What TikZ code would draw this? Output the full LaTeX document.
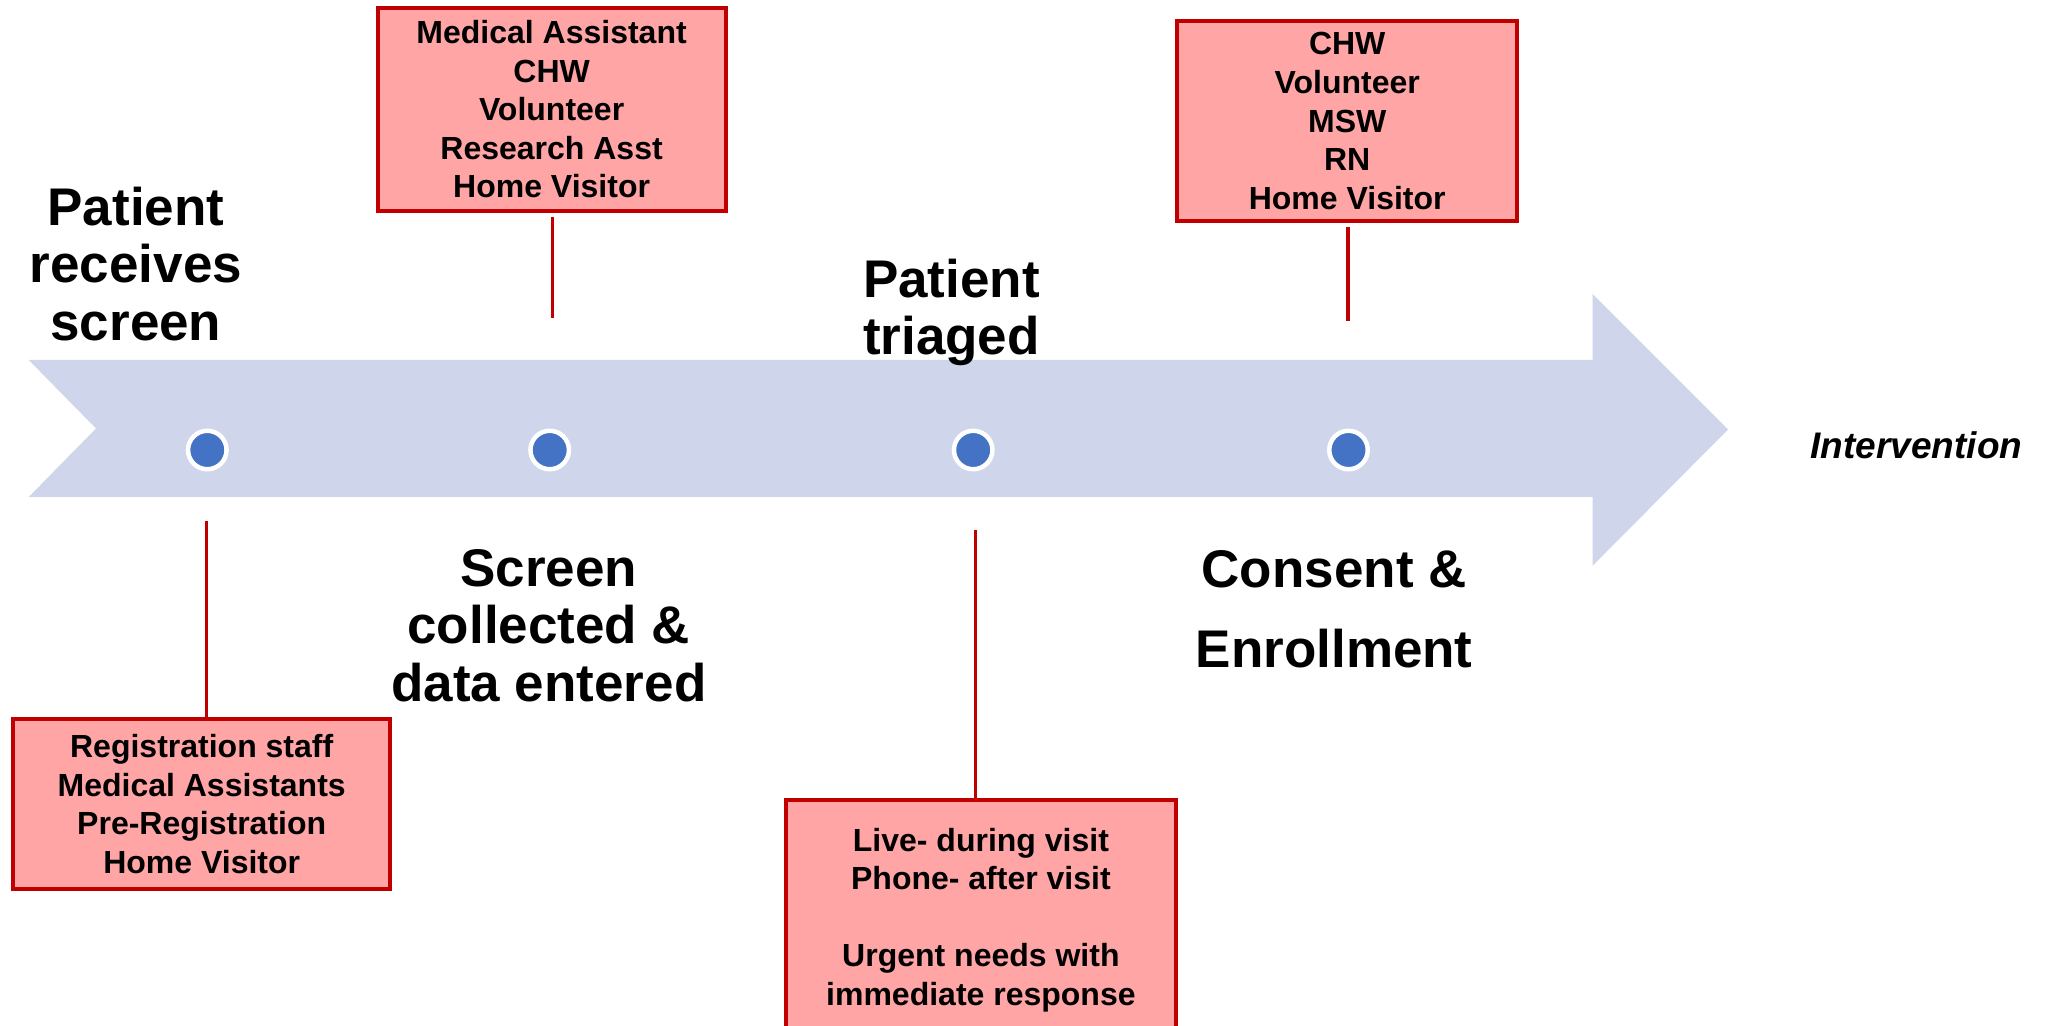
\documentclass[tikz,border=0pt]{standalone}
\usepackage{fontspec}
\setmainfont{Liberation Sans}
\definecolor{arrowfill}{HTML}{CFD5EA}
\definecolor{boxfill}{HTML}{FFA5A5}
\definecolor{boxline}{HTML}{C00000}
\definecolor{dotblue}{HTML}{4472C4}
\begin{document}
\begin{tikzpicture}[x=0.5pt,y=-0.5pt,
  rolebox/.style={draw=boxline,fill=boxfill,line width=2pt,align=center,inner sep=0pt,
    font=\bfseries\fontsize{16}{19.3}\selectfont},
  biglabel/.style={align=center,inner sep=0pt,font=\bfseries\fontsize{26.5}{28.75}\selectfont},
  stepdot/.style={circle,fill=dotblue,draw=white,line width=2.25pt,minimum size=19.25pt,inner sep=0pt},
  conn/.style={draw=boxline,line width=1.75pt}]
\useasboundingbox (0,0) rectangle (2049,1026);
% timeline arrow
\fill[arrowfill] (28.7,360) -- (1592.7,360) -- (1592.7,294) -- (1728,429.5) -- (1592.7,565.6)
  -- (1592.7,497) -- (28.7,497) -- (96,428.5) -- cycle;
% dots
\node[stepdot] (d1) at (207.3,450) {};
\node[stepdot] (d2) at (549.7,450) {};
\node[stepdot] (d3) at (973.2,450) {};
\node[stepdot] (d4) at (1348.5,450) {};
% stage labels
\node[biglabel] (l1) at (135.9,264) {Patient\\receives\\screen};
\node[biglabel] (l2) at (548.9,625.5) {Screen\\collected \&\\data entered};
\node[biglabel] (l3) at (951.4,312.4) {Patient\\triaged};
\node[biglabel,font=\bfseries\fontsize{26.5}{40}\selectfont] (l4) at (1334.2,609.6) {Consent \&\\Enrollment};
\node[inner sep=0pt,font=\bfseries\itshape\fontsize{18.5}{22}\selectfont] (l5) at (1916.5,445.7) {Intervention};
% role boxes
\node[rolebox,minimum width=173.9pt,minimum height=101.5pt] (b1) at (551.6,109.2)
  {Medical Assistant\\CHW\\Volunteer\\Research Asst\\Home Visitor};
\node[rolebox,minimum width=170pt,minimum height=100pt] (b2) at (1347.2,121)
  {CHW\\Volunteer\\MSW\\RN\\Home Visitor};
\node[rolebox,minimum width=188.75pt,minimum height=85pt] (b3) at (201.7,804)
  {Registration staff\\Medical Assistants\\Pre-Registration\\Home Visitor};
\node[rolebox,minimum width=195.4pt,minimum height=120pt] (b4) at (980.9,920)
  {Live- during visit\\Phone- after visit\\~\\Urgent needs with\\immediate response};
% connector ends
\coordinate (c1) at (552.3,318.4);
\coordinate (c2) at (1347.9,321.5);
\coordinate (c3) at (206.3,521);
\coordinate (c4) at (975.7,530.2);
\draw[conn,shorten <=2pt] (c1 |- b1.south) -- (c1);
\draw[conn,shorten <=2pt] (c2 |- b2.south) -- (c2);
\draw[conn] (c3) -- (c3 |- b3.north);
\draw[conn] (c4) -- (c4 |- b4.north);
\end{tikzpicture}
\end{document}
